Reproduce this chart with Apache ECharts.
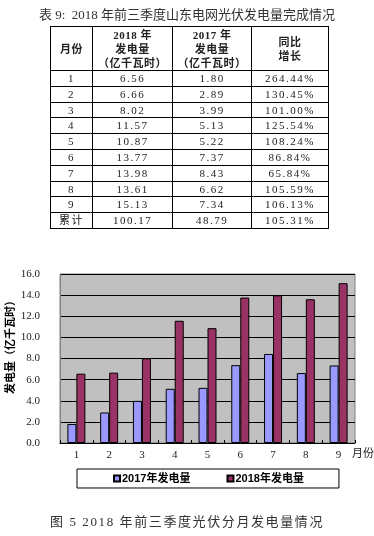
<!DOCTYPE html>
<html><head><meta charset="utf-8">
<script src="https://cdn.jsdelivr.net/npm/echarts@6/dist/echarts.min.js"></script>
<style>
html,body{margin:0;padding:0;background:#fff;}
#chart{position:absolute;left:0;top:0;width:374px;height:536px;}
#tbl{position:absolute;left:50px;top:26px;border-collapse:collapse;table-layout:fixed;width:278px;
 font-family:"Liberation Serif","DejaVu Serif","Noto Sans CJK SC",serif;font-size:11px;color:#222;}
#tbl td,#tbl th{border:1px solid #000;text-align:center;padding:0;letter-spacing:1.5px;}
#tbl th{font-family:"Liberation Serif","Noto Sans CJK SC",serif;font-weight:bold;line-height:14px;height:43px;letter-spacing:0.5px;}
#tbl td{height:14.8px;line-height:14.8px;}
#cap{position:absolute;left:0;width:374px;top:511px;text-align:center;font-family:"Liberation Serif","Noto Sans CJK SC",serif;font-size:13px;letter-spacing:1.6px;color:#333;}
</style></head>
<body>
<div id="chart"></div>
<table id="tbl"><colgroup><col style="width:42px"><col style="width:80px"><col style="width:79px"><col style="width:77px"></colgroup>
<thead><tr><th>月份</th><th>2018 年<br>发电量<br>（亿千瓦时）</th><th>2017 年<br>发电量<br>（亿千瓦时）</th><th>同比<br>增长</th></tr></thead>
<tbody id="tb"></tbody></table>
<div id="cap">图 5 2018 年前三季度光伏分月发电量情况</div>
<script>
var months = ['1','2','3','4','5','6','7','8','9'];
var gen2018 = [6.56, 6.66, 8.02, 11.57, 10.87, 13.77, 13.98, 13.61, 15.13];
var gen2017 = [1.80, 2.89, 3.99, 5.13, 5.22, 7.37, 8.43, 6.62, 7.34];
var growth = ['264.44%','130.45%','101.00%','125.54%','108.24%','86.84%','65.84%','105.59%','106.13%'];
var totalLabel = '累计';
var total2018 = '100.17', total2017 = '48.79', totalGrowth = '105.31%';

var tb = document.getElementById('tb');
var html = '';
for (var i = 0; i < months.length; i++) {
  html += '<tr><td>' + months[i] + '</td><td>' + gen2018[i].toFixed(2) + '</td><td>' + gen2017[i].toFixed(2) + '</td><td>' + growth[i] + '</td></tr>';
}
html += '<tr><td>' + totalLabel + '</td><td>' + total2018 + '</td><td>' + total2017 + '</td><td>' + totalGrowth + '</td></tr>';
tb.innerHTML = html;

var serif = '"Liberation Serif","DejaVu Serif","Noto Sans CJK SC",serif';
var sans = '"Liberation Sans","Noto Sans CJK SC",sans-serif';
var chart = echarts.init(document.getElementById('chart'), null, {renderer:'canvas'});
chart.setOption({
  animation: false,
  title: [
    {text: '表 9:  2018 年前三季度山东电网光伏发电量完成情况', left: 'center', top: 4,
     textStyle: {fontFamily: serif, fontSize: 13, fontWeight: 'normal', color: '#333'}}
  ],
  grid: {left: 60, top: 274, right: 19, bottom: 93, show: true, backgroundColor: '#c0c0c0', borderColor: '#808080', borderWidth: 1},
  legend: {
    data: ['2017年发电量', '2018年发电量'],
    left: 77, top: 469, width: 256,
    borderColor: '#000', borderWidth: 1, borderRadius: 0,
    padding: [4, 35, 4, 36], itemGap: 36,
    icon: 'rect', itemWidth: 6, itemHeight: 6,
    textStyle: {fontFamily: sans, fontSize: 11, fontWeight: 'bold', color: '#000', padding: [0,0,0,-3]}
  },
  xAxis: {
    type: 'category', data: months,
    axisLine: {lineStyle: {color: '#000', width: 1}},
    axisTick: {show: true, inside: true, length: 3, lineStyle: {color: '#000'}},
    axisLabel: {fontFamily: serif, fontSize: 11, color: '#222', margin: 7}
  },
  yAxis: {
    type: 'value', min: 0, max: 16, interval: 2,
    axisLine: {show: true, lineStyle: {color: '#808080'}},
    axisTick: {show: false},
    axisLabel: {fontFamily: serif, fontSize: 11, color: '#222', margin: 20, formatter: function(v){return v.toFixed(1);}},
    splitLine: {show: true, lineStyle: {color: '#000', width: 1}}
  },
  graphic: [
    {type: 'text', left: 5, top: 295, rotation: Math.PI/2, originX: 0, originY: 0,
     style: {text: '发电量（亿千瓦时）', fontFamily: sans, fontSize: 11, fontWeight: 'bold', fill: '#000'}},
    {type: 'text', left: 352, top: 449,
     style: {text: '月份', fontFamily: serif, fontSize: 11, fill: '#222'}}
  ],
  series: [
    {name: '2017年发电量', type: 'bar', data: gen2017, barWidth: 9, barGap: '0%',
     itemStyle: {color: '#9999ff', borderColor: '#000', borderWidth: 1}},
    {name: '2018年发电量', type: 'bar', data: gen2018, barWidth: 9,
     itemStyle: {color: '#993366', borderColor: '#000', borderWidth: 1}}
  ]
});
</script>
</body></html>
